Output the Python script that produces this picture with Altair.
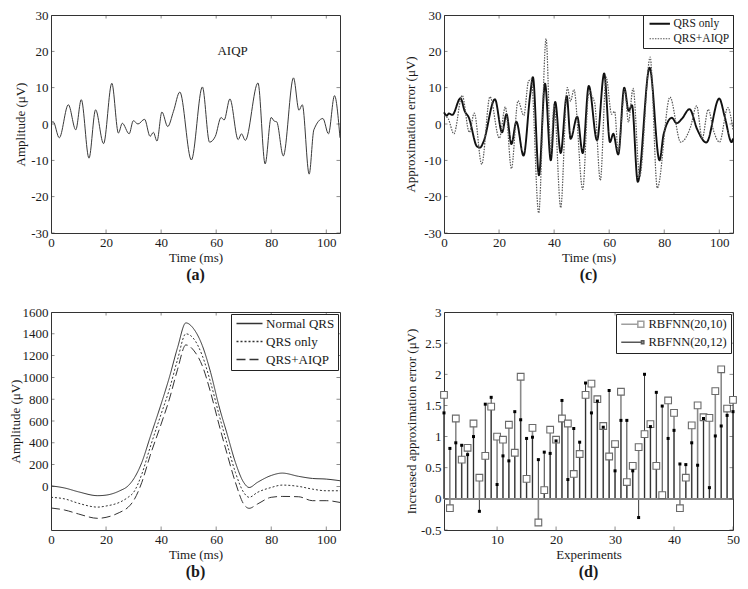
import altair as alt
import pandas as pd

FONT = "Liberation Serif"
INK = "#1a1a1a"
FS = 13

# ---------------- data ----------------
# (a) AIQP signal
a_time = [0, 0.8, 3.0, 6.3, 9.0, 11.0, 13.8, 16.2, 19.1, 22.1, 24.5, 25.9, 28.4, 29.9, 31.6,
          34.0, 36.0, 37.2, 38.5, 40.3, 42.4, 44.5, 46.8, 51.0, 55.0, 57.6, 59.7, 61.8, 62.9,
          65.0, 68.0, 69.2, 70.6, 75.2, 77.8, 80.0, 81.1, 82.0, 84.4, 88.1, 90.1, 91.3, 93.8,
          95.5, 98.8, 100.8, 103.0, 105.0]
a_amp = [0.4, 0.6, -3.8, 5.3, -1.6, 6.7, -9.4, 3.9, -5.4, 11.2, -2.5, 0.2, -2.7, 0.9, 0.0,
         1.3, -3.4, -2.3, -4.7, 3.3, -0.7, 3.5, 8.8, -9.9, 10.2, -5.0, -3.4, 1.8, 1.1,
         6.9, -4.3, -2.7, -4.5, 11.3, -11.0, 1.8, 0.8, 0.6, -8.8, 12.7, 3.8, 5.3, -13.8,
         -1.6, 1.5, -2.7, 7.8, -3.8]

# (b) QRS complexes
b_time = [0, 5, 10, 17, 20, 25, 28, 30, 33, 36, 40, 43, 46, 49, 52, 55, 58, 61, 64, 67,
          70, 72, 75, 80, 84, 90, 95, 100, 105]
b_normal = [5, -15, -50, -85, -80, -40, 5, 67, 220, 450, 755, 1000, 1275, 1500, 1440, 1290,
            1045, 740, 480, 220, 37, -10, 37, 100, 122, 92, 73, 67, 52]
b_qrs_only = [-100, -115, -155, -190, -180, -145, -100, -55, 113, 357, 663, 890, 1166, 1400,
              1350, 1197, 953, 663, 388, 128, -55, -100, -55, -10, 12, 0, -25, -40, -40]
b_qrs_aiqp = [-198, -217, -253, -293, -284, -238, -192, -131, 37, 281, 571, 800, 1075, 1298,
              1243, 1105, 861, 571, 296, 37, -162, -201, -162, -100, -92, -95, -131, -131, -147]
b_series = ["Normal QRS", "QRS only", "QRS+AIQP"]

# (c) approximation errors
c1_time = [0, 1.0, 1.8, 3.0, 6.0, 7.5, 9.0, 12.0, 13.1, 14.3, 18.5, 21.1, 22.7, 24.5, 26.3,
           28.9, 31.3, 32.3, 34.5, 36.7, 38.8, 40.4, 42.4, 44.6, 46.0, 48.4, 50.4, 52.6, 55.6,
           58.2, 60.3, 61.5, 63.3, 65.5, 67.1, 68.3, 70.4, 74.7, 78.3, 79.8, 82.8, 84.5, 86.5,
           89.2, 92.0, 95.3, 100.0, 102.0, 104.5, 105]
c1_err = [3.2, 2.3, 2.9, 2.5, 7.1, 3.6, 1.8, -6.2, -6.5, -5.0, 6.8, -2.3, 2.7, -5.5, 0.6,
          -8.7, 8.0, 12.9, -14.1, 11.1, -10.0, 6.1, -8.0, 7.7, -4.1, 2.0, -8.0, 10.5, -4.5,
          13.9, -5.0, -2.7, -8.4, 10.0, 3.6, 5.2, -15.9, 15.5, -10.0, -2.8, 1.7, 0.2, 1.5,
          4.1, -1.5, -5.1, 7.0, 2.0, -5.0, -4.0]
c2_time = [0, 1.5, 3.6, 6.6, 9.2, 11.0, 13.7, 16.7, 20.1, 22.3, 24.5, 26.9, 29.0, 30.7, 31.7,
           34.4, 37.1, 38.8, 40.0, 42.4, 44.8, 46.0, 47.2, 50.4, 52.6, 54.7, 56.8, 58.9, 60.9,
           62.0, 63.3, 65.7, 67.0, 68.7, 71.1, 74.9, 77.5, 82.1, 86.0, 89.5, 91.8, 93.8, 96.0,
           98.0, 100.1, 103.1, 105.0]
c2_err = [2.3, 1.5, -2.7, 7.9, -2.3, 3.0, -11.1, 7.5, -3.9, 4.7, -12.3, 6.4, 2.3, 11.8, 12.3,
          -24.5, 23.5, -7.4, 5.4, -23.0, 10.0, 6.3, 9.5, -18.0, 8.4, 6.0, -15.5, 12.9, 2.7,
          3.5, -7.7, 9.5, 0.5, 9.8, -14.4, 18.4, -17.6, 7.4, -5.0, -1.0, 5.0, -4.0, 4.0,
          -2.0, -5.0, 4.5, -1.5]
c_series = ["QRS only", "QRS+AIQP"]

# (d) increased approximation error per experiment
d_exp = list(range(1, 51))
d_rbf10 = [1.67, -0.15, 1.29, 0.63, 0.82, 1.21, 0.34, 0.69, 1.48, 1.00,
           0.95, 1.19, 0.74, 1.96, 0.32, 1.14, -0.38, 0.14, 1.11, 0.95,
           1.29, 1.21, 0.40, 0.72, 1.67, 1.85, 1.60, 1.17, 0.68, 0.88,
           1.72, 0.27, 0.53, 0.83, 1.04, 1.20, 0.53, 0.06, 1.58, 1.38,
           -0.15, 0.34, 1.18, 1.50, 1.31, 1.30, 1.73, 2.08, 1.45, 1.59]
d_rbf12 = [1.38, 0.81, 0.90, 0.86, 0.71, 1.00, -0.20, 1.52, 1.63, 0.23,
           0.69, 0.61, 1.40, 1.27, 0.97, 0.99, 0.63, 0.75, 0.73, 0.93,
           1.58, 0.31, 1.13, 0.91, 1.86, 1.38, 1.57, 1.15, 1.74, 0.45,
           1.26, 1.26, 0.45, -0.30, 2.00, 1.16, 1.71, 1.49, 0.97, 1.10,
           0.56, 0.55, 0.90, 0.54, 1.29, 0.18, 1.01, 1.17, 1.34, 1.40]
d_series = ["RBFNN(20,10)", "RBFNN(20,12)"]

# axis tick lists
time_ticks = [0, 20, 40, 60, 80, 100]
a_yticks = [-30, -20, -10, 0, 10, 20, 30]
b_yticks = [0, 200, 400, 600, 800, 1000, 1200, 1400, 1600]
d_xticks = [10, 20, 30, 40, 50]
d_yticks = [-0.5, 0, 0.5, 1, 1.5, 2, 2.5, 3]

W = 289


def axis(values, title, **kw):
    return alt.Axis(values=values, title=title, labelExpr="'' + datum.value", ticks=False,
                    domain=False, grid=False, labelFont=FONT, labelFontSize=FS,
                    labelColor=INK, titleFont=FONT, titleFontSize=FS,
                    titleFontWeight="normal", titleColor=INK, labelPadding=3,
                    labelOverlap=False, labelFlush=False, **kw)


def enc_xy(xdom, ydom, xt, yt, xtitle, ytitle, ytx):
    X = alt.X("t:Q", scale=alt.Scale(domain=xdom, nice=False, zero=False),
              axis=axis(xt, xtitle, titlePadding=2))
    Y = alt.Y("v:Q", scale=alt.Scale(domain=ydom, nice=False, zero=False),
              axis=axis(yt, ytitle, titleX=ytx, titleBaseline="bottom"))
    return X, Y


def inner_ticks(X, Y, xdom, ydom, xt, yt):
    dfx = pd.DataFrame([{"t": v, "v": y} for v in xt for y in ydom])
    dfy = pd.DataFrame([{"t": x, "v": v} for v in yt for x in xdom])
    tx = alt.Chart(dfx).mark_tick(orient="vertical", size=7, thickness=0.8,
                                  color="#333", clip=True).encode(x=X, y=Y)
    ty = alt.Chart(dfy).mark_tick(orient="horizontal", size=7, thickness=0.8,
                                  color="#333", clip=True).encode(x=X, y=Y)
    return [tx, ty]


def legend(**kw):
    base = dict(title=None, orient="top-right", fillColor="white", strokeColor="#222",
                offset=0, labelFont=FONT, labelColor=INK)
    base.update(kw)
    return alt.Legend(**base)


def ptitle(s):
    return alt.TitleParams(s, orient="bottom", font=FONT, fontSize=16, fontWeight="bold",
                           color=INK, offset=3)


# ---------- (a) ----------
xa, ya = enc_xy([0, 105], [-30, 30], time_ticks, a_yticks, "Time (ms)", "Amplitude (μV)", -24)
df_a = pd.DataFrame({"t": a_time, "v": a_amp})
line_a = alt.Chart(df_a).mark_line(interpolate="monotone", color="#3a3a3a",
                                   strokeWidth=1).encode(x=xa, y=ya)
txt_a = alt.Chart(pd.DataFrame({"t": [66], "v": [20], "s": ["AIQP"]})).mark_text(
    font=FONT, fontSize=FS, color=INK).encode(x=xa, y=ya, text="s:N")
pa = alt.layer(line_a, txt_a, *inner_ticks(xa, ya, [0, 105], [-30, 30], time_ticks, a_yticks)
               ).properties(width=W, height=218, title=ptitle("(a)"))

# ---------- (b) ----------
xb, yb = enc_xy([0, 105], [-400, 1600], time_ticks, b_yticks, "Time (ms)", "Amplitude (μV)", -29)
rows = []
for s, vals in zip(b_series, [b_normal, b_qrs_only, b_qrs_aiqp]):
    for t, v in zip(b_time, vals):
        rows.append({"t": t, "v": v, "series": s})
df_b = pd.DataFrame(rows)
line_b = alt.Chart(df_b).mark_line(interpolate="monotone", color="#333",
                                   strokeWidth=1).encode(
    x=xb, y=yb,
    strokeDash=alt.StrokeDash("series:N", scale=alt.Scale(
        domain=b_series, range=[[1, 0], [2, 2], [9, 4]]),
        legend=legend(symbolType="M-3.25,0H3.25", symbolSize=64, symbolOffset=9,
                      labelOffset=10, padding=3, rowPadding=4, labelFontSize=13,
                      offset=2)))
pb = alt.layer(line_b, *inner_ticks(xb, yb, [0, 105], [-400, 1600], time_ticks, b_yticks)
               ).properties(width=W, height=218, title=ptitle("(b)"))

# ---------- (c) ----------
xc, yc = enc_xy([0, 105], [-30, 30], time_ticks, a_yticks, "Time (ms)",
                "Approximation error (μV)", -27)
rows = []
for t, v in zip(c1_time, c1_err):
    rows.append({"t": t, "v": v, "series": c_series[0]})
for t, v in zip(c2_time, c2_err):
    rows.append({"t": t, "v": v, "series": c_series[1]})
df_c = pd.DataFrame(rows)
leg_c = legend(symbolType="M-3.4,0H3.4", symbolSize=36, symbolOffset=8, labelOffset=8,
               padding=3, rowPadding=2, labelFontSize=11.5)
line_c = alt.Chart(df_c).mark_line(interpolate="monotone").encode(
    x=xc, y=yc,
    color=alt.Color("series:N", scale=alt.Scale(domain=c_series, range=["#111", "#555"]),
                    legend=leg_c),
    strokeDash=alt.StrokeDash("series:N", scale=alt.Scale(domain=c_series,
                                                          range=[[1, 0], [1.5, 1.2]]),
                              legend=leg_c),
    strokeWidth=alt.StrokeWidth("series:N", scale=alt.Scale(domain=c_series,
                                                            range=[1.9, 1.2]),
                                legend=leg_c),
    order=alt.Order("series:N", sort="descending"))
pc = alt.layer(line_c, *inner_ticks(xc, yc, [0, 105], [-30, 30], time_ticks, a_yticks)
               ).properties(width=W, height=218, title=ptitle("(c)"))

# ---------- (d) ----------
xd, yd = enc_xy([1, 50], [-0.5, 3], d_xticks, d_yticks, "Experiments",
                "Increased approximation error (μV)", -26)
df_d10 = pd.DataFrame({"t": d_exp, "v": d_rbf10})
df_d12 = pd.DataFrame({"t": d_exp, "v": d_rbf12})
stem10 = alt.Chart(df_d10).mark_rule(color="#8a8a8a", strokeWidth=1.6).encode(
    x=xd, y=yd, y2=alt.datum(0))
stem12 = alt.Chart(df_d12).mark_rule(color="#222", strokeWidth=0.9).encode(
    x=xd, y=yd, y2=alt.datum(0))
zero = alt.Chart(df_d10).mark_rule(color="#888", strokeWidth=1.2).encode(
    y=alt.Y(datum=0, scale=alt.Scale(domain=[-0.5, 3], nice=False, zero=False),
            axis=axis(d_yticks, "Increased approximation error (μV)", titleX=-26,
                      titleBaseline="bottom")))
sq10 = alt.Chart(df_d10).mark_square(size=45, fill="white", stroke="#6a6a6a",
                                     strokeWidth=1.1, fillOpacity=1).encode(x=xd, y=yd)
dot12 = alt.Chart(df_d12).mark_square(size=9, color="#000", opacity=1).encode(x=xd, y=yd)
path10 = "M-2.75,0H1.4M1.4,-0.75H2.9V0.75H1.4Z"
path12 = "M-2.75,0H2.6M2.3,-0.35H2.9V0.35H2.3Z"
df_leg = pd.DataFrame({"series": d_series, "t": [None, None], "v": [None, None]})
leg_dd = legend(symbolSize=64, symbolOffset=6, labelOffset=10, padding=4, rowPadding=5,
                labelFontSize=12.5, offset=2)
leg_d = alt.Chart(df_leg).mark_point(filled=False, strokeWidth=1.2).encode(
    x=xd, y=yd,
    shape=alt.Shape("series:N", scale=alt.Scale(domain=d_series, range=[path10, path12]),
                    legend=leg_dd),
    color=alt.Color("series:N", scale=alt.Scale(domain=d_series, range=["#777", "#111"]),
                    legend=leg_dd))
pd_ = alt.layer(stem10, stem12, zero, sq10, dot12, leg_d,
                *inner_ticks(xd, yd, [1, 50], [-0.5, 3], d_xticks, d_yticks)
                ).properties(width=W, height=218, title=ptitle("(d)"))

chart = alt.concat(pa, pc, pb, pd_, columns=2, spacing={"row": 79, "column": 104},
                   bounds="flush").resolve_scale(
    x="independent", y="independent", color="independent", strokeDash="independent",
    strokeWidth="independent", shape="independent"
).configure_view(stroke="#333", strokeWidth=1).configure_axis(
    labelFont=FONT, titleFont=FONT, titleFontWeight="normal", labelOverlap=False
).configure_legend(labelFont=FONT).properties(
    background="white", padding={"left": 0, "top": 0, "right": 0, "bottom": 0})

chart.save("out.html", embed_options={"renderer": "svg", "actions": False})
